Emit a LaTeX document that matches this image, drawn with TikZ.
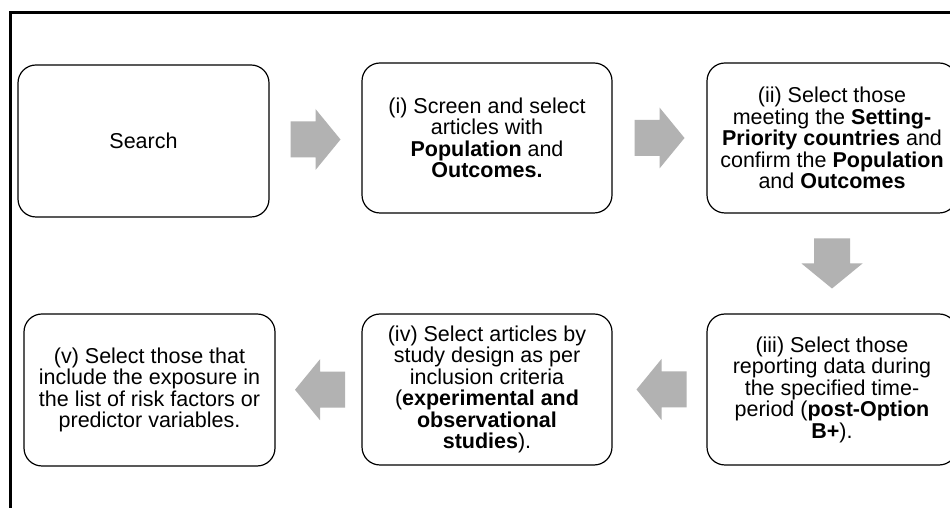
\documentclass[tikz,border=0pt]{standalone}
\usepackage{fontspec}
\setmainfont{Liberation Sans}
\usetikzlibrary{calc}
\definecolor{arrowgray}{RGB}{178,178,178}
\newcommand{\blockarrow}[2]{\fill[arrowgray, shift={#1}, rotate=#2] (-25,-18) -- (0,-18) -- (0,-30.5) -- (25,0) -- (0,30.5) -- (0,18) -- (-25,18) -- cycle;}
\begin{document}
\begin{tikzpicture}[x=1pt,y=1pt,
  stepbox/.style={draw=black, line width=1.2pt, rounded corners=18pt, rectangle,
    minimum width=250pt, minimum height=151pt, inner sep=0pt, align=center,
    font=\fontsize{21.5}{21.5}\selectfont}]
\useasboundingbox (0,0) rectangle (950,508);
\clip (0,0) rectangle (950,508);
\fill[white] (0,0) rectangle (950,508);
\draw[line width=3pt] (10,495.5) rectangle (980,-30);

\node[stepbox, minimum width=251pt, minimum height=152pt] (s) at (143.5,367) {Search};
\node[stepbox, minimum height=150pt] (i) at (487,370) {(i) Screen and select\\articles with\\\textbf{Population} and\\\textbf{Outcomes.}};
\node[stepbox, minimum height=150pt] (ii) at (832,370) {(ii) Select those\\meeting the \textbf{Setting-}\\\textbf{Priority countries} and\\confirm the \textbf{Population}\\and \textbf{Outcomes}};
\node[stepbox] (iii) at (832,118.5) {(iii) Select those\\reporting data during\\the specified time-\\period (\textbf{post-Option}\\\textbf{B+}).};
\node[stepbox] (iv) at (487,118.5) {(iv) Select articles by\\study design as per\\inclusion criteria\\(\textbf{experimental and}\\\textbf{observational}\\\textbf{studies}).};
\node[stepbox, minimum width=251pt, minimum height=152pt] (v) at (149.5,118) {(v) Select those that\\include the exposure in\\the list of risk factors or\\predictor variables.};

\blockarrow{($(s.east)!0.5!(i.west)$)}{0}
\blockarrow{($(i.east)!0.5!(ii.west)$)}{0}
\blockarrow{($(ii.south)!0.5!(iii.north)$)}{-90}
\blockarrow{($(iii.west)!0.5!(iv.east)+(2,0)$)}{180}
\blockarrow{($(iv.west)!0.5!(v.east)+(1.5,0)$)}{180}
\end{tikzpicture}
\end{document}
